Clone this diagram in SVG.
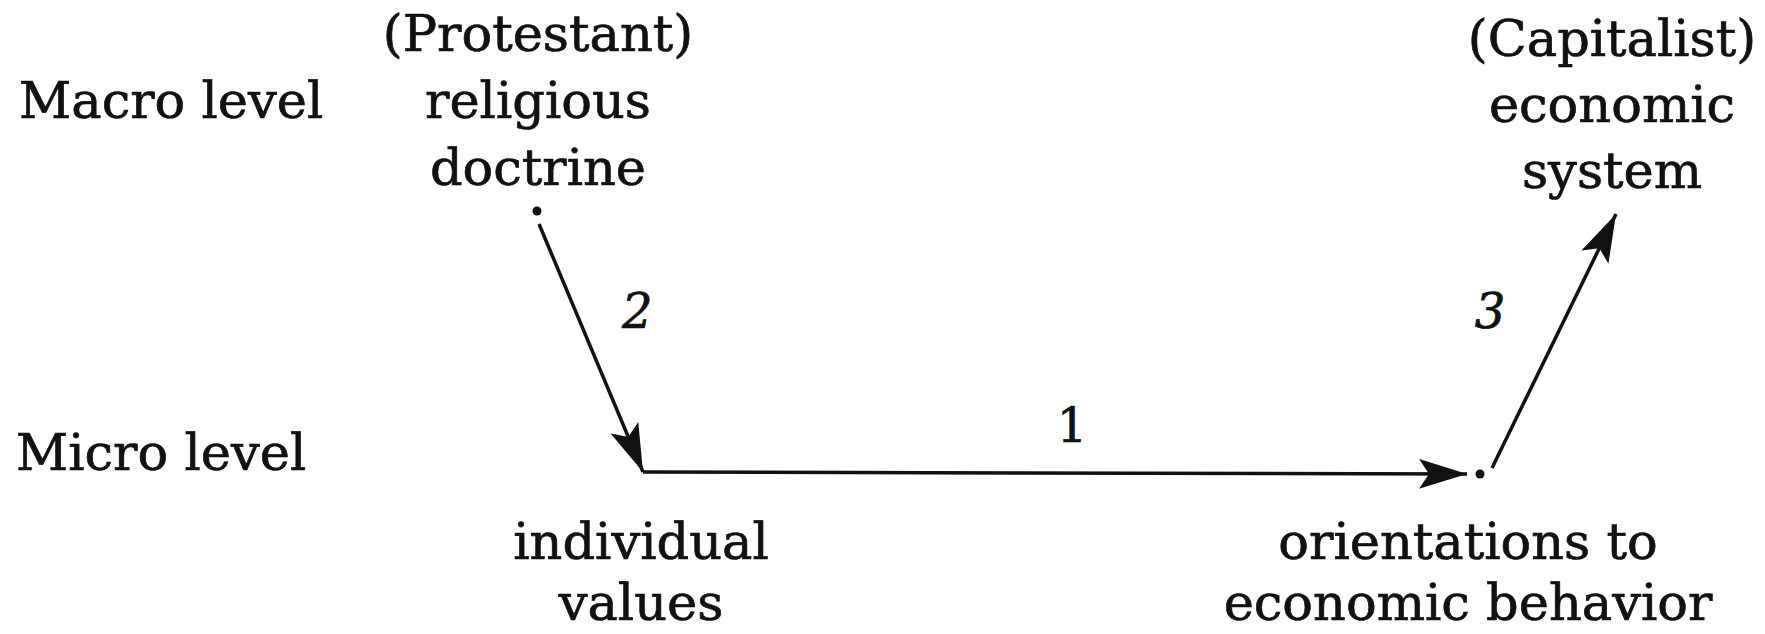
<svg xmlns="http://www.w3.org/2000/svg" width="1765" height="634" viewBox="0 0 1765 634">
<style>
text{font-family:"DejaVu Serif","Liberation Serif",serif;font-size:51px;fill:#111;stroke:#111;stroke-width:0.7}
.c{text-anchor:middle}
.n{font-size:48px}
.i{font-style:italic}
.ln{stroke:#111;stroke-width:3.5;fill:none}
</style>
<defs>
<marker id="ah" viewBox="0 0 48 30" refX="48" refY="15" markerWidth="48" markerHeight="30" markerUnits="userSpaceOnUse" orient="auto">
<path d="M0,0 L48,15 L0,30 L10,15 Z" fill="#111"/>
</marker>
</defs>
<g id="level-labels">
<text x="19" y="118">Macro level</text>
<text x="16" y="470">Micro level</text>
</g>
<g id="religious-doctrine">
<text class="c" x="538" y="51">(Protestant)</text>
<text class="c" x="538" y="118">religious</text>
<text class="c" x="538" y="185">doctrine</text>
<circle cx="537" cy="211" r="4.5" fill="#111"/>
</g>
<g id="economic-system">
<text class="c" x="1612" y="56">(Capitalist)</text>
<text class="c" x="1612" y="122">economic</text>
<text class="c" x="1612" y="188">system</text>
</g>
<g id="individual-values">
<text class="c" x="641" y="559">individual</text>
<text class="c" x="641" y="620">values</text>
</g>
<g id="orientations">
<text class="c" x="1468" y="559">orientations to</text>
<text class="c" x="1468" y="620">economic behavior</text>
<circle cx="1480" cy="474" r="4.5" fill="#111"/>
</g>
<g id="connectors">
<path class="ln" d="M539,224 L643,472" marker-end="url(#ah)"/>
<path class="ln" d="M643,472 L1467,474" marker-end="url(#ah)"/>
<path class="ln" d="M1492,468 L1616,214" marker-end="url(#ah)"/>
<text class="n i" x="622" y="328">2</text>
<text class="n" x="1072" y="442" text-anchor="middle">1</text>
<text class="n i" x="1490" y="328" text-anchor="middle">3</text>
</g>
</svg>
